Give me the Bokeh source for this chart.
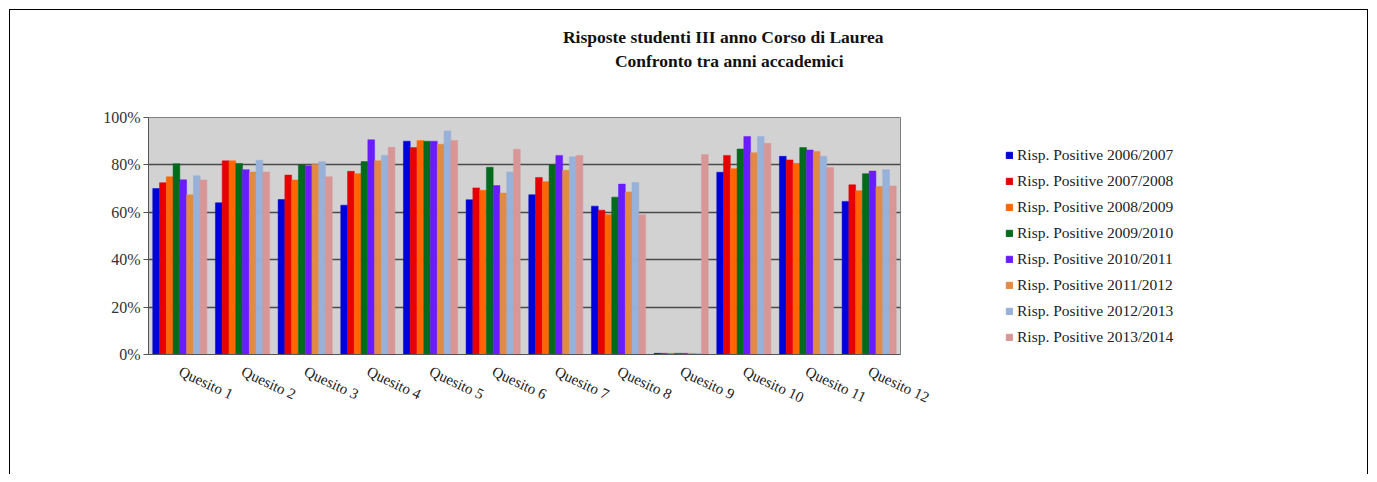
from bokeh.plotting import figure
from bokeh.layouts import row
from bokeh.models import ColumnDataSource, Legend, LegendItem, Title, Range1d, PrintfTickFormatter, FixedTicker
from bokeh.transform import dodge
from bokeh.embed import file_html
from bokeh.resources import INLINE

categories = ["Quesito 1", "Quesito 2", "Quesito 3", "Quesito 4", "Quesito 5", "Quesito 6",
              "Quesito 7", "Quesito 8", "Quesito 9", "Quesito 10", "Quesito 11", "Quesito 12"]

series_names = ["Risp. Positive 2006/2007", "Risp. Positive 2007/2008", "Risp. Positive 2008/2009",
                "Risp. Positive 2009/2010", "Risp. Positive 2010/2011", "Risp. Positive 2011/2012",
                "Risp. Positive 2012/2013", "Risp. Positive 2013/2014"]

s2006 = [70.0, 64.0, 65.4, 63.0, 90.0, 65.3, 67.4, 62.6, 0.5, 76.9, 83.6, 64.6]
s2007 = [72.5, 81.7, 75.7, 77.3, 87.3, 70.3, 74.7, 60.9, 0.5, 84.0, 82.1, 71.6]
s2008 = [75.0, 81.7, 73.6, 76.3, 90.3, 69.3, 72.9, 59.0, 0.5, 78.4, 80.6, 69.1]
s2009 = [80.5, 80.6, 80.0, 81.4, 90.0, 79.0, 80.0, 66.4, 0.5, 86.7, 87.3, 76.3]
s2010 = [73.7, 78.0, 79.6, 90.6, 90.0, 71.3, 84.0, 71.9, 0.5, 92.0, 86.3, 77.4]
s2011 = [67.4, 77.0, 80.3, 81.7, 88.7, 68.1, 77.7, 68.6, 0.5, 85.1, 85.7, 70.9]
s2012 = [75.4, 82.0, 81.3, 84.0, 94.3, 77.0, 83.4, 72.6, 0.5, 92.0, 83.7, 78.0]
s2013 = [73.6, 77.0, 75.0, 87.4, 90.3, 86.6, 84.0, 59.0, 84.4, 89.1, 78.9, 71.1]

series_values = [s2006, s2007, s2008, s2009, s2010, s2011, s2012, s2013]
colors = ["#0000dd", "#e60000", "#ff6600", "#006b1a", "#6a1cff", "#e08a45", "#98b1d9", "#d99696"]

title_lines = ["Risposte studenti III anno Corso di Laurea", "Confronto tra anni accademici"]
y_ticks = [0, 20, 40, 60, 80, 100]

SERIF = "Liberation Serif"

data = {"cat": categories}
for i, vals in enumerate(series_values):
    data["s%d" % i] = vals
source = ColumnDataSource(data)

# ---- main chart ----
p = figure(x_range=categories, y_range=Range1d(0, 100), width=952, height=464,
           output_backend="svg", toolbar_location=None,
           min_border_left=138, min_border_right=62, min_border_top=107, min_border_bottom=120)

p.background_fill_color = "#d2d2d2"
p.outline_line_color = "#808080"
p.xgrid.grid_line_color = None
p.ygrid.grid_line_color = "#4a4a4a"
p.ygrid.grid_line_width = 1.5
p.yaxis.ticker = FixedTicker(ticks=y_ticks)
p.yaxis.formatter = PrintfTickFormatter(format="%d%%")
p.yaxis.major_label_text_font = SERIF
p.yaxis.major_label_text_font_size = "16px"
p.yaxis.major_label_text_color = "#333333"
p.yaxis.major_label_standoff = 3
p.yaxis.axis_line_color = "#555555"
p.yaxis.major_tick_line_color = "#555555"
p.yaxis.major_tick_out = 5
p.yaxis.major_tick_in = 0
p.yaxis.minor_tick_line_color = None

p.xaxis.major_tick_line_color = None
p.xaxis.axis_line_color = "#555555"
p.xaxis.major_label_orientation = -0.44
p.xaxis.major_label_text_font = SERIF
p.xaxis.major_label_text_font_size = "15px"
p.xaxis.major_label_text_color = "#222222"
p.xaxis.major_label_standoff = 10

bw = 0.108
for i, name in enumerate(series_names):
    p.vbar(x=dodge("cat", (i - 3.5) * bw, range=p.x_range), top="s%d" % i, width=bw,
           source=source, fill_color=colors[i], line_color=colors[i], line_width=0.5)

title_style = dict(text_font=SERIF, text_font_style="bold", text_font_size="17.5px", text_color="#111111")
# spacer between the plot area and the titles
p.add_layout(Title(text=" ", align="right", standoff=25, **title_style), "above")
p.add_layout(Title(text=title_lines[1], align="right", offset=57, standoff=0, **title_style), "above")
p.add_layout(Title(text=title_lines[0], align="right", offset=17, standoff=4, **title_style), "above")

# ---- legend panel (its frame is aligned with the chart's frame) ----
q = figure(width=405, height=464, x_range=Range1d(0, 1), y_range=Range1d(0, 1),
           output_backend="svg", toolbar_location=None, min_border=0,
           x_axis_location=None, y_axis_location=None)
q.grid.visible = False
q.outline_line_color = None
items = []
for i, name in enumerate(series_names):
    # same series values shifted outside this panel's ranges: only the legend swatch shows
    r = q.vbar(x=dodge("s%d" % i, 5), top=dodge("s%d" % i, 5), bottom=dodge("s%d" % i, 5),
               width=0.1, source=source, fill_color=colors[i], line_color=colors[i])
    items.append(LegendItem(label=name, renderers=[r]))
legend = Legend(items=items, location=(43, 8), glyph_width=8, glyph_height=8,
                label_text_font=SERIF, label_text_font_size="15.5px", label_text_color="#222222",
                label_height=14, spacing=8, label_standoff=4, padding=0, margin=0,
                border_line_color=None, background_fill_alpha=0)
q.add_layout(legend, "center")

layout = row(p, q, styles={"margin-left": "9px", "margin-top": "9px",
                           "border-top": "1px solid black", "border-left": "1px solid black",
                           "border-right": "1px solid black"})

open("out.html", "w").write(file_html(layout, INLINE))
